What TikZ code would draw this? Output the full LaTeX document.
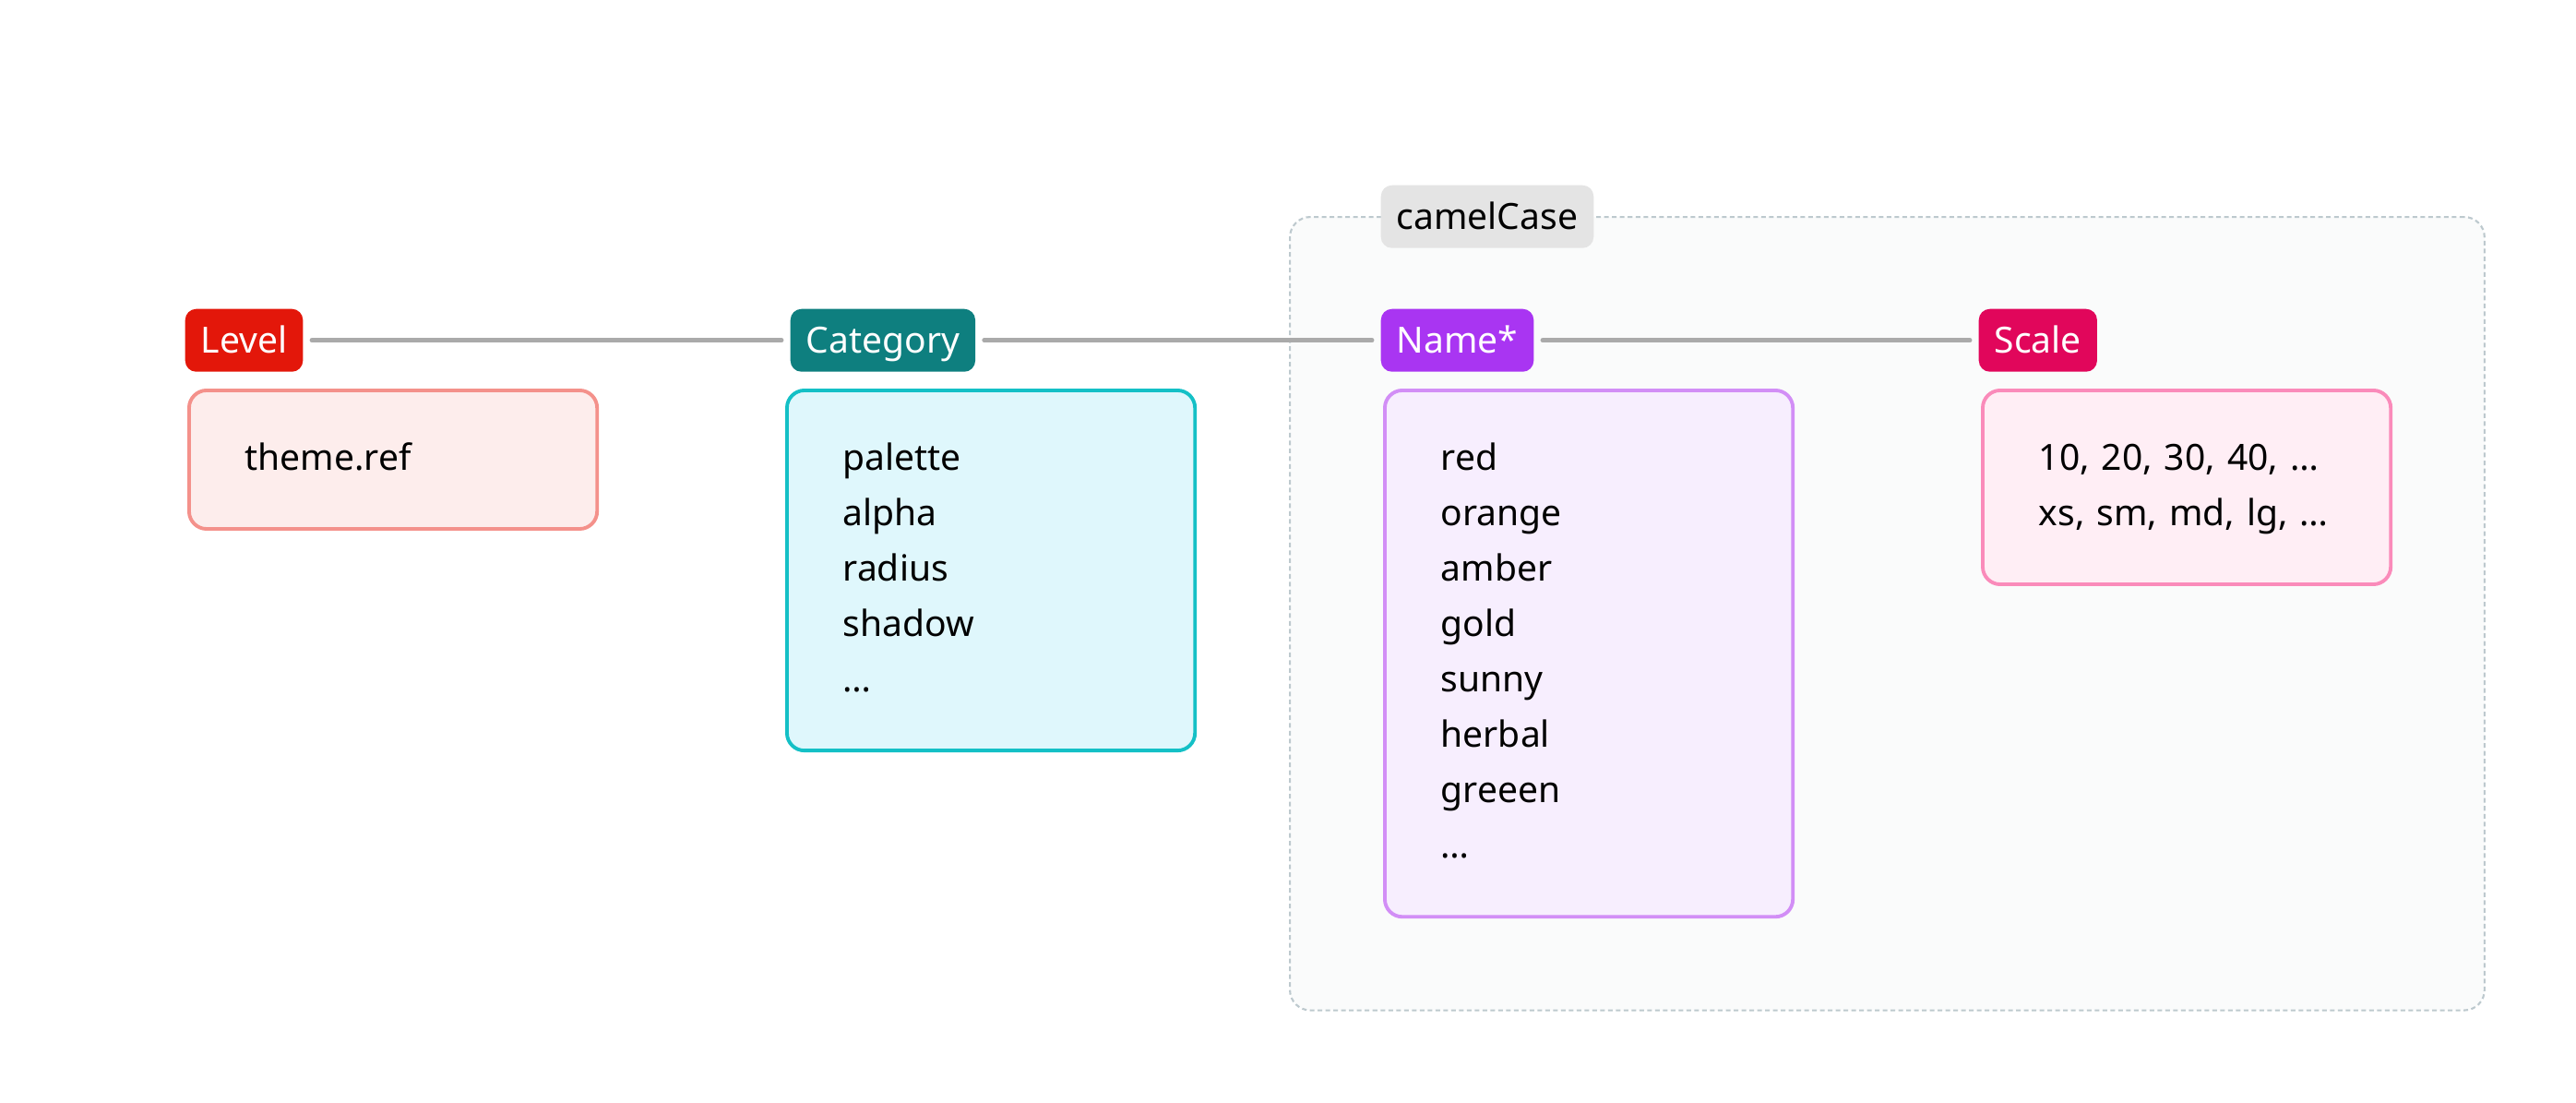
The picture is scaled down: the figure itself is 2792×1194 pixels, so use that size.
\documentclass[tikz,border=0pt]{standalone}
\usepackage{fontspec}
\setmainfont{Noto Sans}
\usepackage{xcolor}
\definecolor{levred}{HTML}{E3170A}
\definecolor{levline}{HTML}{F4918B}
\definecolor{levfill}{HTML}{FDEDEC}
\definecolor{catteal}{HTML}{0E7F7F}
\definecolor{catline}{HTML}{14C0C6}
\definecolor{catfill}{HTML}{DFF7FC}
\definecolor{namepurple}{HTML}{A935F2}
\definecolor{nameline}{HTML}{D28EF6}
\definecolor{namefill}{HTML}{F7EEFE}
\definecolor{scalepink}{HTML}{E1065B}
\definecolor{scaleline}{HTML}{FA8BBA}
\definecolor{scalefill}{HTML}{FFEEF5}
\definecolor{camelgray}{HTML}{E4E4E4}
\definecolor{linkgray}{HTML}{AAAAAA}
\definecolor{framegray}{HTML}{BDC9CE}
\definecolor{framefill}{HTML}{FAFBFB}
\tikzset{
  tag/.style={rounded corners=0.12cm, text=white, anchor=north west,
    inner xsep=0.17cm, inner ysep=0.2cm, text height=0.28cm, text depth=0pt,
    font=\fontsize{11.1pt}{17.07pt}\selectfont},
  box/.style={draw, line width=1.1pt, rounded corners=0.19cm, anchor=north west,
    minimum width=4.42cm},
  items/.style={anchor=base west, inner sep=0pt, text width=3.18cm, align=left,
    font=\fontsize{11.1pt}{17.07pt}\selectfont},
  link/.style={draw=linkgray, line width=1.4pt, line cap=round,
    shorten <=0.09cm, shorten >=0.09cm},
  groupframe/.style={draw=framegray, fill=framefill, line width=0.6pt, dashed,
    dash pattern=on 0.05cm off 0.035cm, rounded corners=0.22cm, anchor=north west}
}

\begin{document}
\begin{tikzpicture}[x=0.01cm, y=-0.01cm]
\useasboundingbox (0,0) rectangle (2792,1194);
% camelCase group
\node[groupframe, minimum width=12.94cm, minimum height=8.59cm] (camel) at (1397,234) {};
\node[tag, fill=camelgray, text=black] (camelcase) at (1496,200) {camelCase};
% tags
\node[tag, fill=levred] (level) at (200,334) {Level};
\node[tag, fill=catteal] (category) at (856,334) {Category};
\node[tag, fill=namepurple] (name) at (1496,334) {Name*};
\node[tag, fill=scalepink] (scale) at (2144,334) {Scale};
% boxes
\node[box, draw=levline, fill=levfill, minimum height=1.50cm] (levbox) at (203,421) {};
\node[items] (levtext) at (265,509) {theme.ref};
\node[box, draw=catline, fill=catfill, minimum height=3.90cm] (catbox) at (851,421) {};
\node[items] (cattext) at (913,509) {palette\\alpha\\radius\\shadow\\…};
\node[box, draw=nameline, fill=namefill, minimum height=5.70cm] (namebox) at (1499,421) {};
\node[items] (nametext) at (1561,509) {red\\orange\\amber\\gold\\sunny\\herbal\\greeen\\…};
\node[box, draw=scaleline, fill=scalefill, minimum height=2.10cm] (scalebox) at (2147,421) {};
\node[items] (scaletext) at (2209,509) {10, 20, 30, 40, …\\xs, sm, md, lg, …};
% links
\draw[link] (level) -- (category);
\draw[link] (category) -- (name);
\draw[link] (name) -- (scale);
\end{tikzpicture}
\end{document}
